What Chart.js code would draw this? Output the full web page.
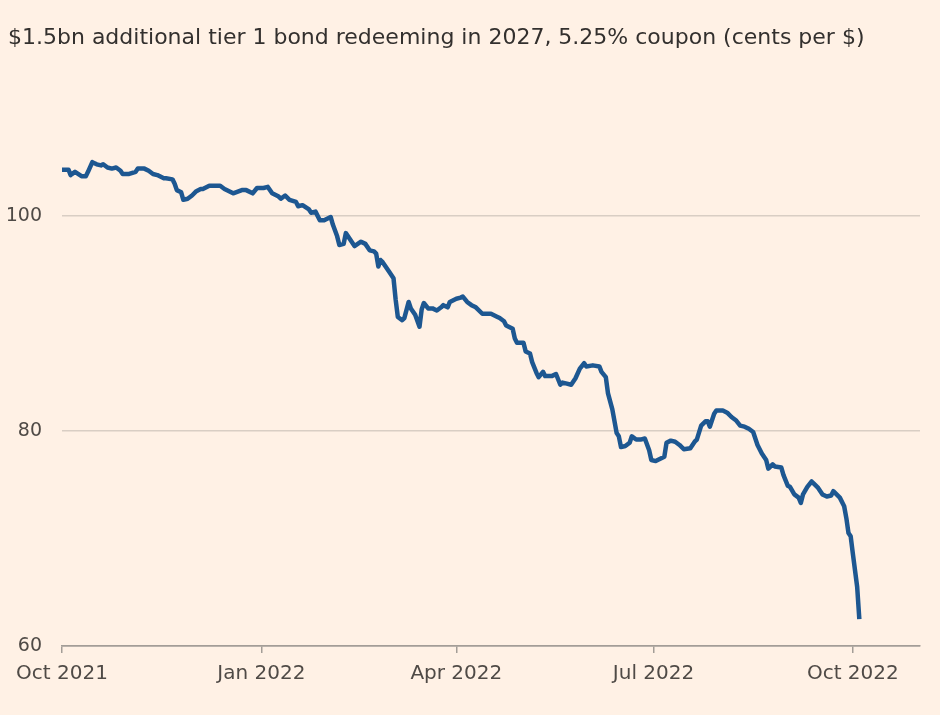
<!DOCTYPE html>
<html lang="en">
<head>
<meta charset="UTF-8">
<title>AT1 bond price</title>
<script src="https://cdn.jsdelivr.net/npm/chart.js"></script>
<style>
  html, body { margin: 0; padding: 0; background: #fff1e5; }
  canvas { display: block; }
</style>
</head>
<body>
<canvas id="bondChart" width="940" height="715"></canvas>
<script>
// x = days since 1 Oct 2021, y = price in cents per $
const days = [
  0, 3, 4, 6, 9, 11, 12, 14, 16, 18, 19, 21, 23, 25, 27, 28, 31, 34, 35, 38,
  40, 42, 44, 47, 48, 51, 52, 53, 55, 56, 58, 60, 62, 64, 65, 68, 70, 73, 75, 79,
  83, 85, 88, 90, 93, 95, 97, 100, 101, 103, 105, 108, 109, 111, 114, 115, 117, 119, 121, 124,
  125, 127, 128, 130, 131, 133, 135, 138, 140, 142, 144, 145, 146, 147, 148, 151, 153, 154, 155, 157,
  158, 160, 161, 163, 165, 166, 167, 169, 171, 173, 175, 176, 178, 179, 182, 184, 185, 187, 189, 191,
  194, 195, 198, 201, 202, 204, 205, 208, 209, 210, 212, 213, 214, 216, 217, 219, 220, 222, 223, 226,
  228, 230, 231, 233, 235, 237, 239, 241, 242, 245, 248, 249, 251, 252, 254, 256, 257, 258, 260, 262,
  263, 265, 267, 269, 271, 272, 274, 278, 279, 281, 283, 285, 287, 290, 292, 293, 295, 297, 298, 299,
  301, 302, 305, 307, 309, 311, 313, 315, 317, 319, 321, 323, 325, 326, 328, 329, 332, 333, 335, 336,
  338, 340, 341, 342, 344, 346, 347, 349, 351, 353, 355, 356, 359, 361, 362, 363, 364, 365, 367, 368
];
const prices = [
  104.3, 104.3, 103.8, 104.1, 103.7, 103.7, 104.1, 105.0, 104.8, 104.7, 104.8, 104.5, 104.4, 104.5, 104.2, 103.9, 103.9, 104.1, 104.4, 104.4,
  104.2, 103.9, 103.8, 103.5, 103.5, 103.4, 103.0, 102.4, 102.2, 101.5, 101.6, 101.9, 102.3, 102.5, 102.5, 102.8, 102.8, 102.8, 102.5, 102.1,
  102.4, 102.4, 102.1, 102.6, 102.6, 102.7, 102.1, 101.8, 101.6, 101.9, 101.5, 101.3, 100.9, 101.0, 100.6, 100.3, 100.4, 99.6, 99.6, 99.9,
  99.2, 98.1, 97.3, 97.4, 98.4, 97.8, 97.2, 97.6, 97.4, 96.8, 96.7, 96.5, 95.3, 95.9, 95.7, 94.8, 94.2, 92.2, 90.6, 90.3,
  90.5, 92.0, 91.4, 90.8, 89.7, 91.3, 91.9, 91.4, 91.4, 91.2, 91.5, 91.7, 91.5, 92.0, 92.3, 92.4, 92.5, 92.0, 91.7, 91.5,
  90.9, 90.9, 90.9, 90.6, 90.5, 90.2, 89.8, 89.5, 88.6, 88.2, 88.2, 88.2, 87.4, 87.2, 86.4, 85.4, 85.0, 85.5, 85.1, 85.1,
  85.3, 84.3, 84.5, 84.4, 84.3, 84.9, 85.8, 86.3, 86.0, 86.1, 86.0, 85.5, 85.0, 83.5, 82.0, 79.8, 79.5, 78.5, 78.6, 78.9,
  79.5, 79.2, 79.2, 79.3, 78.2, 77.3, 77.2, 77.6, 78.9, 79.1, 79.0, 78.7, 78.3, 78.4, 79.0, 79.2, 80.5, 80.9, 80.9, 80.4,
  81.6, 81.9, 81.9, 81.7, 81.3, 81.0, 80.5, 80.4, 80.2, 79.9, 78.7, 77.9, 77.3, 76.5, 76.9, 76.7, 76.6, 75.9, 74.9, 74.8,
  74.1, 73.8, 73.3, 74.1, 74.8, 75.3, 75.1, 74.7, 74.1, 73.9, 74.0, 74.4, 73.8, 73.0, 71.9, 70.5, 70.2, 68.6, 65.5, 62.5
];
const tickDays = [0, 92, 182, 273, 365];
const tickLabels = ['Oct 2021', 'Jan 2022', 'Apr 2022', 'Jul 2022', 'Oct 2022'];
const yTicks = [60, 80, 100];

const fontFamily = '"DejaVu Sans", sans-serif';
const axisColor = '#a39d97';
const gridColor = '#d9cec4';

const points = days.map((d, i) => ({ x: d, y: prices[i] }));

const ctx = document.getElementById('bondChart').getContext('2d');
new Chart(ctx, {
  type: 'line',
  data: {
    datasets: [{
      data: points,
      borderColor: '#1d5791',
      borderWidth: 4.5,
      pointRadius: 0,
      borderJoinStyle: 'round',
      tension: 0
    }]
  },
  options: {
    responsive: false,
    animation: false,
    layout: { padding: { left: 8, right: 20, top: 0, bottom: 0 } },
    plugins: {
      legend: { display: false },
      tooltip: { enabled: false },
      title: {
        display: true,
        text: '$1.5bn additional tier 1 bond redeeming in 2027, 5.25% coupon (cents per $)',
        align: 'start',
        color: '#33302e',
        font: { family: fontFamily, size: 22, weight: 'normal' },
        padding: { top: 25, bottom: 57 }
      }
    },
    scales: {
      x: {
        type: 'linear',
        min: 0,
        max: 396,
        afterBuildTicks: s => { s.ticks = tickDays.map(v => ({ value: v })); },
        afterFit: s => { s.height = 69; },
        ticks: {
          callback: (v, i) => tickLabels[i],
          autoSkip: false,
          maxRotation: 0,
          padding: 9,
          color: '#4f4a46',
          font: { family: fontFamily, size: 20 }
        },
        grid: {
          drawOnChartArea: false,
          drawTicks: true,
          tickLength: 7,
          color: axisColor,
          lineWidth: 1.5
        },
        border: { display: true, color: axisColor, width: 1.5 }
      },
      y: {
        min: 60,
        max: 110,
        afterBuildTicks: s => { s.ticks = yTicks.map(v => ({ value: v })); },
        afterFit: s => { s.width = 54; },
        ticks: {
          padding: 20,
          color: '#4f4a46',
          font: { family: fontFamily, size: 19 }
        },
        grid: {
          drawTicks: false,
          color: c => (c.tick && c.tick.value === 60) ? axisColor : gridColor,
          lineWidth: 1.5
        },
        border: { display: false }
      }
    }
  }
});
</script>
</body>
</html>
